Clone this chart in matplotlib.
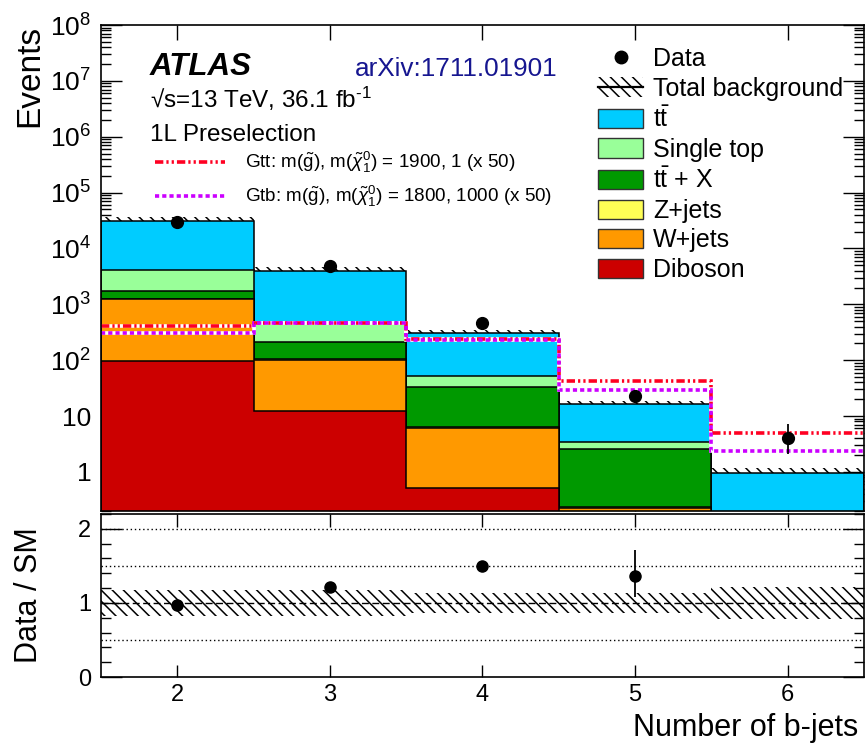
import numpy as np
import matplotlib
matplotlib.use('Agg')
import matplotlib.pyplot as plt
from matplotlib.patches import Patch
from matplotlib.lines import Line2D
from matplotlib.ticker import FixedLocator, FixedFormatter, MultipleLocator, LogLocator, NullFormatter

plt.rcParams['font.family'] = ['Liberation Sans', 'DejaVu Sans']
plt.rcParams['mathtext.fontset'] = 'custom'
plt.rcParams['mathtext.rm'] = 'Liberation Sans'
plt.rcParams['mathtext.it'] = 'Liberation Sans:italic'
plt.rcParams['mathtext.bf'] = 'Liberation Sans:bold'
plt.rcParams['mathtext.sf'] = 'Liberation Sans'
plt.rcParams['hatch.linewidth'] = 1.1
plt.rcParams['lines.scale_dashes'] = False

# ---------------- data ----------------
nbjets = [2, 3, 4, 5, 6]
edges = [1.5, 2.5, 3.5, 4.5, 5.5, 6.5]

diboson = [95, 12.3, 0.51, 0.10, 0.01]
wjets = [1145, 88.7, 5.5, 0.13, 0.02]
zjets = [20, 3.0, 0.3, 0.004, 0.001]
ttx = [470, 112, 26.2, 2.34, 0.12]
singletop = [2440, 224, 20.5, 0.82, 0.04]
ttbar = [26530, 3495, 254, 13.4, 0.76]
bkg_unc = [0.18, 0.18, 0.13, 0.13, 0.22]

data = [29800, 4770, 460, 23, 4]
data_err_lo = [173, 69, 21, 4.8, 1.9]
data_err_hi = [173, 70, 22, 5.9, 3.2]

gtt = [410, 460, 236, 42, 4.9]
gtb = [312, 464, 234, 28.8, 2.4]

bkg_names = ['Diboson', 'W+jets', 'Z+jets', r'$\mathrm{t\bar{t}}$ + X', 'Single top', r'$\mathrm{t\bar{t}}$']
bkg_colors = ['#cc0000', '#ff9900', '#ffff55', '#009900', '#99ff99', '#00ccff']

ytick_vals = [1, 10, 1e2, 1e3, 1e4, 1e5, 1e6, 1e7, 1e8]
ytick_labels = ['1', '10', '$10^{2}$', '$10^{3}$', '$10^{4}$', '$10^{5}$', '$10^{6}$', '$10^{7}$', '$10^{8}$']

W, H = 865, 747
HATCH = '\\\\\\'


def px(x, y):
    return (x / W, 1 - y / H)


fig = plt.figure(figsize=(W / 100, H / 100), dpi=100)
ax1 = fig.add_axes([101 / W, 1 - 511 / H, 763 / W, 486 / H])
ax2 = fig.add_axes([101 / W, 1 - 677 / H, 763 / W, 163 / H])

comps = np.array([diboson, wjets, zjets, ttx, singletop, ttbar], dtype=float)
cum = np.cumsum(comps, axis=0)
total = cum[-1]
unc = np.array(bkg_unc)
x = np.array(nbjets, dtype=float)

# hatched uncertainty band (beneath stack)
ax1.bar(x, 2 * unc * total, bottom=total * (1 - unc), width=1.0, facecolor='none',
        edgecolor='black', hatch=HATCH, linewidth=0, zorder=1)

# stacked histograms drawn top-down
for i in range(len(comps) - 1, -1, -1):
    ax1.stairs(cum[i], edges, baseline=1e-3, fill=True, facecolor=bkg_colors[i],
               edgecolor='black', linewidth=1.1, zorder=2)

# signal lines
for vals, col, dashes in [(gtt, '#ff0022', (6, 2.2, 1.6, 2.2, 1.6, 2.2)),
                          (gtb, '#cc00ff', (3.0, 2.2))]:
    ax1.stairs(vals, edges, baseline=None, color='white', linewidth=2.6, zorder=3)
    s = ax1.stairs(vals, edges, baseline=None, color=col, linewidth=2.6, zorder=3.1)
    s.set_linestyle((0, dashes))

ax1.errorbar(x, data, yerr=[data_err_lo, data_err_hi], fmt='o', color='black',
             ms=8.5, elinewidth=1.3, capsize=0, zorder=5)

ax1.set_xlim(1.5, 6.5)
ax1.set_yscale('log')
ax1.set_ylim(0.2, 1e8)
ax1.yaxis.set_major_locator(FixedLocator(ytick_vals))
ax1.yaxis.set_major_formatter(FixedFormatter(ytick_labels))
ax1.yaxis.set_minor_locator(LogLocator(base=10, subs=np.arange(2, 10), numticks=30))
ax1.yaxis.set_minor_formatter(NullFormatter())
ax1.set_xticks(nbjets)
ax1.tick_params(axis='x', which='major', direction='in', length=11, width=1.0,
                top=True, bottom=True, labelbottom=False)
ax1.tick_params(axis='y', which='major', direction='in', length=15, width=1.0,
                left=True, right=True, labelsize=19, pad=7)
ax1.tick_params(axis='y', which='minor', direction='in', length=7.5, width=1.0,
                left=True, right=True)
for sp in ax1.spines.values():
    sp.set_linewidth(1.2)
    sp.set_zorder(10)

# legend
handles = [Line2D([], [], marker='o', color='black', ls='none', ms=9),
           (Patch(facecolor='none', edgecolor='black', hatch=HATCH, linewidth=0),
            Line2D([], [], color='black', lw=1.6))]
labels = ['Data', 'Total background']
for i in range(len(comps) - 1, -1, -1):
    handles.append(Patch(facecolor=bkg_colors[i], edgecolor='#333333', linewidth=1.0))
    labels.append(bkg_names[i])
ax1.legend(handles, labels, loc='upper left', bbox_to_anchor=px(598, 47),
           bbox_transform=fig.transFigure, frameon=False, fontsize=18,
           handlelength=1.8, handleheight=0.8, handletextpad=0.4,
           labelspacing=0.225, borderpad=0, borderaxespad=0)

# texts
fig.text(*px(150, 75), 'ATLAS', weight='bold', style='italic', size=22.5, va='baseline')
fig.text(*px(355, 76), 'arXiv:1711.01901', size=18.8, color='#161690', va='baseline')
fig.text(*px(150, 108), r'√s=13 TeV, 36.1 fb$^{\text{-1}}$', size=17.5, va='baseline')
fig.text(*px(150, 141), '1L Preselection', size=17.5, va='baseline')

for yy, col, dashes, txt in [
        (162, '#ff0022', (6, 2.2, 1.6, 2.2, 1.6, 2.2),
         r'Gtt: m($\tilde{\mathrm{g}}$), m($\tilde{\chi}^{0}_{1}$) = 1900, 1 (x 50)'),
        (196, '#cc00ff', (3.0, 2.2),
         r'Gtb: m($\tilde{\mathrm{g}}$), m($\tilde{\chi}^{0}_{1}$) = 1800, 1000 (x 50)')]:
    (x0, y0), (x1, _) = px(155, yy), px(225, yy)
    fig.add_artist(Line2D([x0, x1], [y0, y0], transform=fig.transFigure, color='white', lw=2.6))
    ln = Line2D([x0, x1], [y0, y0], transform=fig.transFigure, color=col, lw=2.6)
    ln.set_linestyle((0, dashes))
    fig.add_artist(ln)
    fig.text(*px(245, yy), txt, size=13.6, va='center')

fig.text(*px(30, 25), 'Events', rotation=90, ha='center', va='top', size=24)
fig.text(*px(29, 595), 'Data / SM', rotation=90, ha='center', va='center', size=22)
fig.text(*px(858, 736), 'Number of b-jets', ha='right', va='baseline', size=22)

# ---------------- ratio panel ----------------
ratio = np.array(data) / total
r_lo = np.array(data_err_lo) / total
r_hi = np.array(data_err_hi) / total

ax2.bar(x, 2 * unc, bottom=1 - unc, width=1.0, facecolor='none', edgecolor='black',
        hatch=HATCH, linewidth=0, zorder=1)
ax2.axhline(1.0, color='black', lw=1.0, ls=(0, (5, 2.5)), zorder=2)
for yv in [0.5, 1.5, 2.0]:
    ax2.axhline(yv, color='black', lw=1.0, ls=(0, (1, 2)), zorder=2)
ax2.errorbar(x, ratio, yerr=[r_lo, r_hi], fmt='o', color='black', ms=8,
             elinewidth=1.3, capsize=0, zorder=5)

ax2.set_xlim(1.5, 6.5)
ax2.set_ylim(0, 2.2)
ax2.set_xticks(nbjets)
ax2.set_xticklabels([str(v) for v in nbjets])
ax2.set_yticks([0, 1, 2])
ax2.yaxis.set_minor_locator(MultipleLocator(0.2))
ax2.tick_params(axis='x', which='major', direction='in', length=9, width=1.0,
                top=True, bottom=True, labelsize=17, pad=5)
ax2.tick_params(axis='y', which='major', direction='in', length=15, width=1.0,
                left=True, right=True, labelsize=17, pad=7)
ax2.tick_params(axis='y', which='minor', direction='in', length=7, width=1.0,
                left=True, right=True)
for sp in ax2.spines.values():
    sp.set_linewidth(1.2)
    sp.set_zorder(10)

fig.savefig('out.png', dpi=100)
